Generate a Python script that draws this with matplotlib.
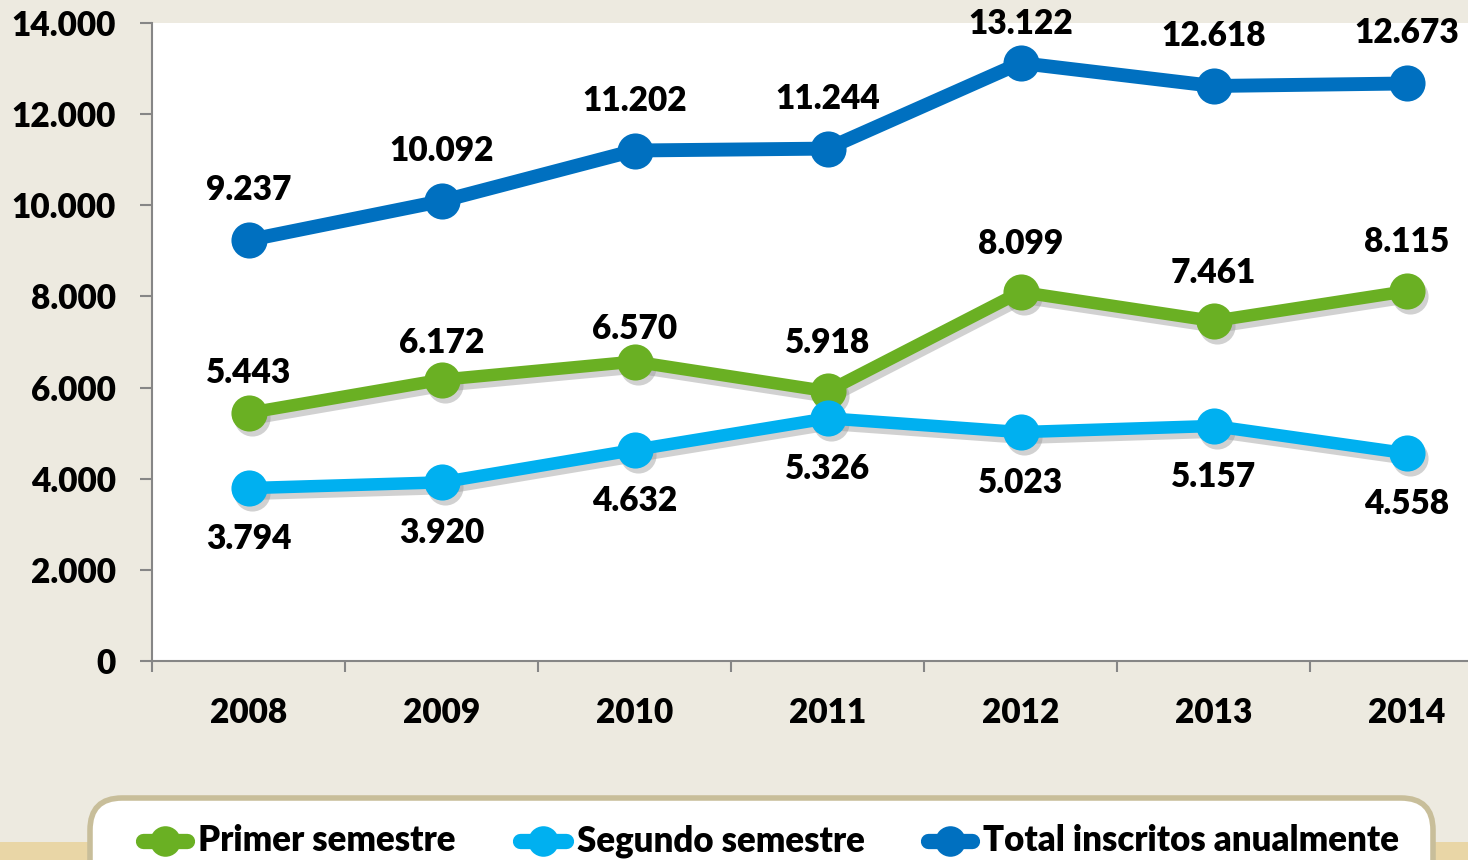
import matplotlib
matplotlib.use("Agg")
import matplotlib.pyplot as plt
from matplotlib.patches import FancyBboxPatch, Rectangle
from matplotlib.lines import Line2D
from matplotlib.transforms import offset_copy

years = ["2008", "2009", "2010", "2011", "2012", "2013", "2014"]
primer = [5443, 6172, 6570, 5918, 8099, 7461, 8115]
segundo = [3794, 3920, 4632, 5326, 5023, 5157, 4558]
total = [9237, 10092, 11202, 11244, 13122, 12618, 12673]
series_names = ["Primer semestre", "Segundo semestre", "Total inscritos anualmente"]
yticks = [0, 2000, 4000, 6000, 8000, 10000, 12000, 14000]

# styling
GREEN = "#6AB023"
LBLUE = "#00B0F0"
BLUE = "#0070C0"
BG = "#EDEAE0"
FONT = ["Lato", "DejaVu Sans"]
WEIGHT = "heavy"
plt.rcParams["font.family"] = FONT
plt.rcParams["font.weight"] = WEIGHT

W, H = 1468, 860
fig = plt.figure(figsize=(W / 100, H / 100), dpi=100, facecolor=BG)

# overlay for decorations (pixel coords)
ov = fig.add_axes([0, 0, 1, 1], zorder=0)
ov.set_xlim(0, W)
ov.set_ylim(H, 0)
ov.axis("off")
ov.add_patch(Rectangle((0, 842), W, 20, facecolor="#E9D6A6", edgecolor="none"))
ov.add_patch(FancyBboxPatch((90, 798), 1343, 120,
                            boxstyle="round,pad=0,rounding_size=32",
                            facecolor="white", edgecolor="#C8BE9A", linewidth=4))

def fmt(v):
    return f"{v:,.0f}".replace(",", ".")

x = list(range(len(years)))
ax = fig.add_axes([152 / W, 199 / H, 1351 / W, 638 / H], zorder=1)
ax.set_facecolor("white")
ax.set_xlim(-0.5, 6.5)
ax.set_ylim(0, 14000)

shadow_tr = offset_copy(ax.transData, fig=fig, x=3, y=-5, units="dots")
for vals in (primer, segundo):
    ax.plot(x, vals, color="#9a9a9a", alpha=0.45, lw=10, marker="o", ms=26, mew=0,
            solid_joinstyle="round", transform=shadow_tr, zorder=2)

ax.plot(x, primer, color=GREEN, lw=9, marker="o", ms=26, mew=0, solid_joinstyle="round", zorder=3)
ax.plot(x, segundo, color=LBLUE, lw=9, marker="o", ms=26, mew=0, solid_joinstyle="round", zorder=4)
ax.plot(x, total, color=BLUE, lw=10, marker="o", ms=26, mew=0, solid_joinstyle="round", zorder=5)

label_kw = dict(ha="center", va="center", fontsize=24, fontweight=WEIGHT,
                textcoords="offset pixels", annotation_clip=False, zorder=6)
total_off = [50, 50, 50, 50, 39, 50, 50]
primer_off = [40, 37, 33, 48, 48, 48, 49]
for i in x:
    ax.annotate(fmt(total[i]), (i, total[i]), xytext=(0, total_off[i]), **label_kw)
    ax.annotate(fmt(primer[i]), (i, primer[i]), xytext=(0, primer_off[i]), **label_kw)
    ax.annotate(fmt(segundo[i]), (i, segundo[i]), xytext=(0, -51), **label_kw)

for s in ["top", "right"]:
    ax.spines[s].set_visible(False)
for s in ["left", "bottom"]:
    ax.spines[s].set_color("#868686")
    ax.spines[s].set_linewidth(1.5)

ax.set_yticks(yticks)
ax.set_yticklabels([fmt(v) for v in yticks])
ax.tick_params(axis="y", length=9, width=1.5, color="#868686", pad=17, labelsize=24)
ax.set_xticks([i - 0.5 for i in range(len(years) + 1)])
ax.set_xticklabels([])
ax.tick_params(axis="x", which="major", length=8, width=1.5, color="#868686")
ax.set_xticks(x, minor=True)
ax.set_xticklabels(years, minor=True)
ax.tick_params(axis="x", which="minor", length=0, pad=26, labelsize=24)
for lab in ax.get_yticklabels() + ax.get_xticklabels(minor=True):
    lab.set_fontweight(WEIGHT)

# legend
entries = [(135, 195, GREEN, series_names[0]),
           (512, 574, LBLUE, series_names[1]),
           (920, 980, BLUE, series_names[2])]
for x0, x1, c, name in entries:
    ov.add_line(Line2D([x0 + 8, x1 - 8], [841, 841], color=c, lw=11, solid_capstyle="round"))
    ov.add_line(Line2D([(x0 + x1) / 2], [841], color=c, marker="o", ms=22, mew=0, lw=0))
    ov.text(x1 + 3, 851, name, fontsize=25, fontweight=WEIGHT, ha="left", va="baseline")

fig.savefig("out.png", dpi=100, facecolor=BG)
